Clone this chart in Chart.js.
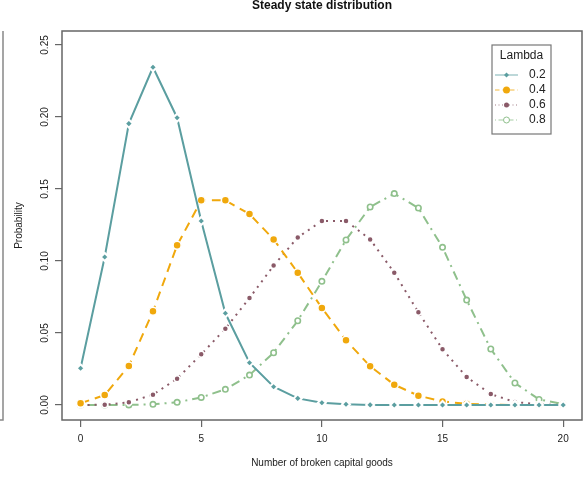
<!DOCTYPE html>
<html>
<head>
<meta charset="utf-8">
<script src="https://cdn.jsdelivr.net/npm/chart.js@4.4.0/dist/chart.umd.min.js"></script>
<style>
  html, body { margin: 0; padding: 0; background: #fff; }
</style>
</head>
<body>
<canvas id="chart" width="588" height="478"></canvas>
<script>
// valeurs
const brokenGoods = [0, 1, 2, 3, 4, 5, 6, 7, 8, 9, 10, 11, 12, 13, 14, 15, 16, 17, 18, 19, 20];
const lambdaLabels = ['0.2', '0.4', '0.6', '0.8'];
const probLambda02 = [0.0255, 0.1028, 0.1954, 0.2345, 0.1995, 0.1278, 0.0637, 0.0294, 0.0127, 0.0046, 0.0016, 0.0005, 0.0001, 0, 0, 0, 0, 0, 0, 0, 0];
const probLambda04 = [0.0012, 0.0069, 0.0271, 0.0651, 0.1109, 0.1421, 0.1421, 0.1326, 0.1150, 0.0919, 0.0674, 0.0449, 0.0269, 0.0141, 0.0065, 0.0025, 0.0008, 0.0002, 0, 0, 0];
const probLambda06 = [0, 0.0002, 0.0019, 0.0072, 0.0183, 0.0352, 0.0530, 0.0743, 0.0968, 0.1164, 0.1278, 0.1278, 0.1150, 0.0919, 0.0644, 0.0387, 0.0194, 0.0076, 0.0021, 0.0004, 0];
const probLambda08 = [0, 0, 0.0001, 0.0005, 0.0019, 0.0053, 0.0109, 0.0208, 0.0363, 0.0585, 0.0859, 0.1146, 0.1375, 0.1468, 0.1368, 0.1095, 0.0729, 0.0389, 0.0153, 0.0039, 0.0007];
const xTickValues = [0, 5, 10, 15, 20];
const yTickValues = [0, 0.05, 0.10, 0.15, 0.20, 0.25];

const FONT = "'Liberation Sans', Arial, sans-serif";
const AXIS_COL = '#666';

function toPoints(values) {
    return brokenGoods.map((x, i) => ({ x: x, y: values[i] }));
}

const datasets = [
    {
        label: lambdaLabels[0], data: toPoints(probLambda02),
        borderColor: '#5b9ea0', borderWidth: 2, borderDash: [],
        pointStyle: 'rectRot', pointRadius: 4, pointBackgroundColor: '#5b9ea0',
        pointBorderColor: '#fff', pointBorderWidth: 2
    },
    {
        label: lambdaLabels[1], data: toPoints(probLambda04),
        borderColor: '#f0a80c', borderWidth: 2, borderDash: [9, 6],
        pointStyle: 'circle', pointRadius: 4, pointBackgroundColor: '#f0a80c',
        pointBorderColor: '#fff', pointBorderWidth: 1.5
    },
    {
        label: lambdaLabels[2], data: toPoints(probLambda06),
        borderColor: '#8a5a68', borderWidth: 2, borderDash: [2, 5],
        pointStyle: 'circle', pointRadius: 3, pointBackgroundColor: '#8a5a68',
        pointBorderColor: '#fff', pointBorderWidth: 1.5
    },
    {
        label: lambdaLabels[3], data: toPoints(probLambda08),
        borderColor: '#8fc08c', borderWidth: 2, borderDash: [2, 5, 9, 5],
        pointStyle: 'circle', pointRadius: 2.7, pointBackgroundColor: '#fff',
        pointBorderColor: '#8fc08c', pointBorderWidth: 1.6
    }
];

// cadre façon R + légende dans la zone
const rFrame = {
    id: 'rFrame',
    afterDraw(chart) {
        const ctx = chart.ctx;
        const a = chart.chartArea;
        ctx.save();
        ctx.strokeStyle = AXIS_COL;
        ctx.lineWidth = 1.5;
        ctx.strokeRect(a.left, a.top, a.right - a.left, a.bottom - a.top);

        // bord du graphique voisin
        ctx.strokeStyle = '#888';
        ctx.lineWidth = 1.5;
        ctx.beginPath();
        ctx.moveTo(3, a.top);
        ctx.lineTo(3, a.bottom);
        ctx.lineTo(0, a.bottom);
        ctx.stroke();

        // légende
        const lx = 492, ly = 45, lw = 59, lh = 89;
        ctx.fillStyle = '#fff';
        ctx.fillRect(lx, ly, lw, lh);
        ctx.strokeStyle = '#777';
        ctx.lineWidth = 1.2;
        ctx.strokeRect(lx, ly, lw, lh);
        ctx.fillStyle = '#222';
        ctx.font = '12px ' + FONT;
        ctx.textAlign = 'center';
        ctx.textBaseline = 'middle';
        ctx.fillText('Lambda', lx + lw / 2, ly + 11);
        chart.data.datasets.forEach((ds, i) => {
            const y = ly + 30 + i * 15;
            ctx.strokeStyle = ds.borderColor;
            ctx.globalAlpha = 0.8;
            ctx.lineWidth = 1;
            ctx.setLineDash(ds.borderDash.map(d => d / 2));
            ctx.beginPath();
            ctx.moveTo(lx + 3, y);
            ctx.lineTo(lx + 26, y);
            ctx.stroke();
            ctx.setLineDash([]);
            ctx.globalAlpha = 1;
            ctx.beginPath();
            if (ds.pointStyle === 'rectRot') {
                ctx.moveTo(lx + 14.5, y - 2.5);
                ctx.lineTo(lx + 17, y);
                ctx.lineTo(lx + 14.5, y + 2.5);
                ctx.lineTo(lx + 12, y);
                ctx.closePath();
                ctx.fillStyle = ds.pointBackgroundColor;
                ctx.fill();
            } else {
                const r = ds.pointBackgroundColor === '#fff' ? 3 : (ds.pointRadius > 3.5 ? 3.5 : 2.5);
                ctx.arc(lx + 14.5, y, r, 0, Math.PI * 2);
                ctx.fillStyle = ds.pointBackgroundColor;
                ctx.fill();
                if (ds.pointBackgroundColor === '#fff') {
                    ctx.strokeStyle = ds.pointBorderColor;
                    ctx.lineWidth = 1;
                    ctx.stroke();
                }
            }
            ctx.fillStyle = '#222';
            ctx.textAlign = 'left';
            ctx.fillText(ds.label, lx + 37, y);
        });
        ctx.restore();
    }
};

new Chart(document.getElementById('chart'), {
    type: 'line',
    data: { datasets: datasets },
    options: {
        responsive: false,
        animation: false,
        devicePixelRatio: 1,
        layout: { padding: { left: 0, right: 5, top: 0, bottom: 0 } },
        plugins: {
            legend: { display: false },
            tooltip: { enabled: false },
            title: {
                display: true,
                text: 'Steady state distribution',
                fullSize: false,
                color: '#111',
                font: { family: FONT, size: 12, weight: 'bold', lineHeight: 1.0 },
                padding: { top: 0, bottom: 19 }
            }
        },
        scales: {
            x: {
                type: 'linear',
                min: -0.77,
                max: 20.78,
                afterBuildTicks: s => { s.ticks = xTickValues.map(v => ({ value: v })); },
                afterFit: s => { s.height = 58; },
                grid: { drawOnChartArea: false, drawTicks: true, tickLength: 7, color: AXIS_COL, lineWidth: 1.2 },
                border: { display: false },
                ticks: { color: '#222', padding: 6, maxRotation: 0, font: { family: FONT, size: 10 } },
                title: {
                    display: true, text: 'Number of broken capital goods', color: '#222',
                    font: { family: FONT, size: 10 }, padding: { top: 0, bottom: 9 }
                }
            },
            y: {
                type: 'linear',
                min: -0.0104,
                max: 0.2597,
                afterBuildTicks: s => { s.ticks = yTickValues.map(v => ({ value: v })); },
                afterFit: s => { s.width = 62; },
                grid: { drawOnChartArea: false, drawTicks: true, tickLength: 7, color: AXIS_COL, lineWidth: 1.2 },
                border: { display: false },
                ticks: {
                    color: '#222', padding: 0, minRotation: 90, maxRotation: 90, crossAlign: 'center',
                    font: { family: FONT, size: 10 },
                    callback: v => v.toFixed(2)
                },
                title: {
                    display: true, text: 'Probability', color: '#222',
                    font: { family: FONT, size: 10 }, padding: { top: 13, bottom: 0 }
                }
            }
        }
    },
    plugins: [rFrame]
});
</script>
</body>
</html>
